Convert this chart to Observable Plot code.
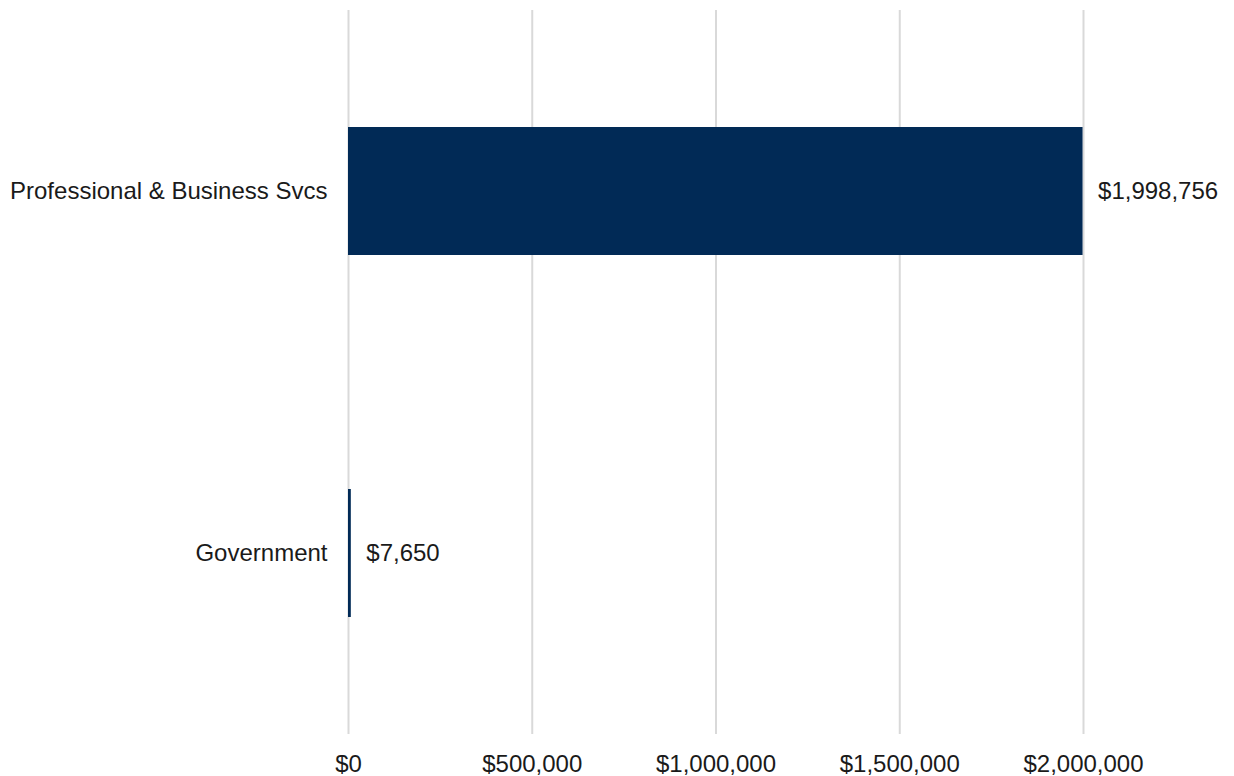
<!DOCTYPE html>
<html>
<head>
<meta charset="utf-8">
<script src="https://cdn.jsdelivr.net/npm/d3@7"></script>
<script src="https://cdn.jsdelivr.net/npm/@observablehq/plot@0.6"></script>
<style>
  html, body { margin: 0; padding: 0; background: #fff; }
  #chart svg { display: block; }
</style>
</head>
<body>
<div id="chart"></div>
<script>
const categories = ["Professional & Business Svcs", "Government"];
const values = [1998756, 7650];
const xTicks = [0, 500000, 1000000, 1500000, 2000000];

const data = categories.map((c, i) => ({category: c, value: values[i]}));
const money = v => "$" + d3.format(",")(v);

const chart = Plot.plot({
  width: 1234,
  height: 776,
  marginLeft: 348,
  marginRight: 151,
  marginTop: 10,
  marginBottom: 42,
  style: {fontFamily: "'Liberation Sans', Arial, sans-serif", fontSize: "24px", color: "#1a1a1a", background: "#fff"},
  x: {domain: [0, 2000000], ticks: xTicks, tickFormat: money, tickSize: 0, tickPadding: 20, label: null},
  y: {domain: categories, paddingInner: 0.647, paddingOuter: 0.3215, tickSize: 0, tickPadding: 21, label: null},
  marks: [
    Plot.gridX(xTicks, {stroke: "#d9d9d9", strokeOpacity: 1, strokeWidth: 2}),
    Plot.barX(data, {y: "category", x: "value", fill: "#012a56"}),
    Plot.text(data, {y: "category", x: "value", text: d => money(d.value), textAnchor: "start", dx: 15, fill: "#1a1a1a"}),
    Plot.axisX({ticks: xTicks, tickFormat: money, tickSize: 0, tickPadding: 20, label: null}),
    Plot.axisY({tickSize: 0, tickPadding: 21, label: null})
  ]
});
document.getElementById("chart").appendChild(chart);
</script>
</body>
</html>
